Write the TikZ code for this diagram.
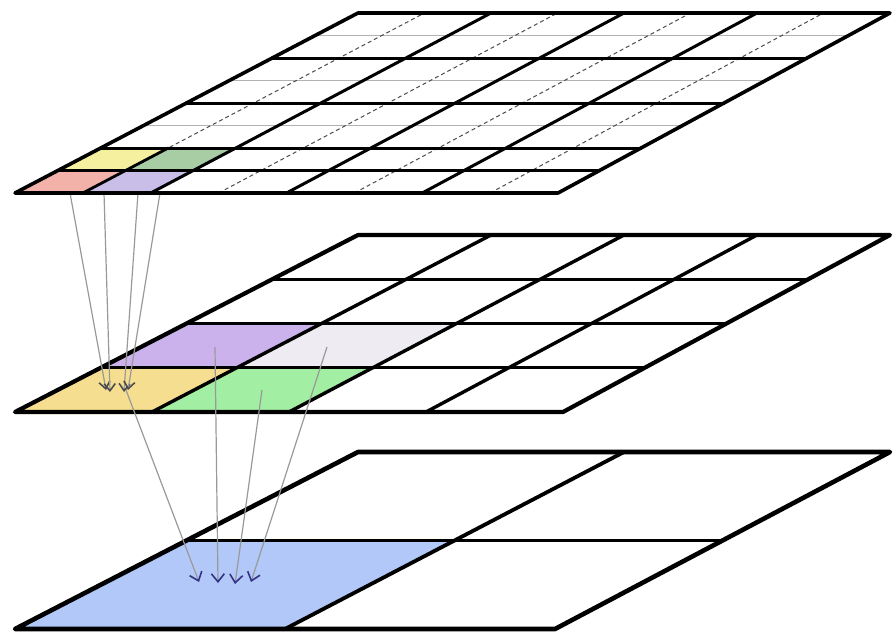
\documentclass[tikz,border=0pt]{standalone}
\usetikzlibrary{calc,arrows.meta}
\definecolor{tpink}{HTML}{F2B2AA}
\definecolor{tlav}{HTML}{C8BEE8}
\definecolor{tyel}{HTML}{F4F0A0}
\definecolor{tgreen}{HTML}{A8CCA4}
\definecolor{myel}{HTML}{F6DE90}
\definecolor{mgreen}{HTML}{A2EEA2}
\definecolor{mpurp}{HTML}{CBB2EC}
\definecolor{mgray}{HTML}{EEEBF2}
\definecolor{bblue}{HTML}{B2C8F8}
\newcommand{\mklayer}[8]{%
  \foreach \i in {0,...,#2}{\foreach \j in {0,...,#2}{%
    \pgfmathsetmacro\px{#3 + \j/#2*(#4-#3) + \i/#2*(#5-#3) + \i*\j/(#2*#2)*(#6-#5-#4+#3)}%
    \pgfmathsetmacro\py{#7 + \i/#2*(#8-#7)}%
    \coordinate (#1-\i-\j) at (\px,\py);}}}
\tikzset{
  gridline/.style={line width=3.4pt, line join=round, line cap=round},
  border/.style={line width=4.2pt, line join=round},
  thinrow/.style={line width=1pt, color=black!30},
  dashcol/.style={line width=1pt, color=black!70, dash pattern=on 4pt off 3pt},
  link/.style={line width=1.2pt, color=black!40},
  upper/.style={link, -{Straight Barb[length=7pt,width=11pt,line width=1.6pt,color=black!70]}},
  lower/.style={link, -{Straight Barb[length=8pt,width=13pt,line width=1.6pt,color=blue!40!black!80]}},
}
\begin{document}
\begin{tikzpicture}[x=1pt,y=-1pt]
\useasboundingbox (0,0) rectangle (893,637);
\mklayer{T}{8}{15}{558}{358}{890}{193}{13}
\mklayer{M}{4}{15}{563}{358}{890}{412}{235}
\mklayer{B}{2}{15}{555}{358}{890}{629}{452}

% ---------- bottom layer ----------
\fill[white] (B-0-0) -- (B-0-2) -- (B-2-2) -- (B-2-0) -- cycle;
\fill[bblue] (B-0-0) -- (B-0-1) -- (B-1-1) -- (B-1-0) -- cycle;
\draw[gridline, line width=3.8pt] (B-1-0) -- (B-1-2);
\draw[gridline, line width=3.8pt] (B-0-1) -- (B-2-1);
\draw[border, line width=4.6pt] (B-0-0) -- (B-0-2) -- (B-2-2) -- (B-2-0) -- cycle;

% ---------- middle layer ----------
\fill[white] (M-0-0) -- (M-0-4) -- (M-4-4) -- (M-4-0) -- cycle;
\fill[myel]   (M-0-0) -- (M-0-1) -- (M-1-1) -- (M-1-0) -- cycle;
\fill[mgreen] (M-0-1) -- (M-0-2) -- (M-1-2) -- (M-1-1) -- cycle;
\fill[mpurp]  (M-1-0) -- (M-1-1) -- (M-2-1) -- (M-2-0) -- cycle;
\fill[mgray]  (M-1-1) -- (M-1-2) -- (M-2-2) -- (M-2-1) -- cycle;
\foreach \k in {1,2,3}{
  \draw[gridline] (M-\k-0) -- (M-\k-4);
  \draw[gridline] (M-0-\k) -- (M-4-\k);
}
\draw[border] (M-0-0) -- (M-0-4) -- (M-4-4) -- (M-4-0) -- cycle;

% ---------- connectors ----------
\coordinate (ua) at (70,193);  \coordinate (uae) at (106,390);
\coordinate (ub) at (104,193); \coordinate (ube) at (110,392);
\coordinate (uc) at (138,193); \coordinate (uce) at (124,392);
\coordinate (ud) at (160,193); \coordinate (ude) at (128,390);
\draw[upper] (ua) -- (uae);
\draw[upper] (ub) -- (ube);
\draw[upper] (uc) -- (uce);
\draw[upper] (ud) -- (ude);

\coordinate (cyel) at (126,390);  \coordinate (le1) at (199,582);
\coordinate (cpur) at (215,347);  \coordinate (le2) at (218,583);
\coordinate (cgrn) at (262,390);  \coordinate (le3) at (235,584);
\coordinate (cgry) at (327,347);  \coordinate (le4) at (251,582);
\draw[lower] (cyel) -- (le1);
\draw[lower] (cpur) -- (le2);
\draw[lower] (cgrn) -- (le3);
\draw[lower] (cgry) -- (le4);

% ---------- top layer ----------
\fill[white] (T-0-0) -- (T-0-8) -- (T-8-8) -- (T-8-0) -- cycle;
\foreach \k in {3,5,7}{ \draw[thinrow] (T-\k-0) -- (T-\k-8); }
\foreach \k in {1,3,5,7}{ \draw[dashcol] (T-0-\k) -- (T-8-\k); }
\fill[tpink]  (T-0-0) -- (T-0-1) -- (T-1-1) -- (T-1-0) -- cycle;
\fill[tlav]   (T-0-1) -- (T-0-2) -- (T-1-2) -- (T-1-1) -- cycle;
\fill[tyel]   (T-1-0) -- (T-1-1) -- (T-2-1) -- (T-2-0) -- cycle;
\fill[tgreen] (T-1-1) -- (T-1-2) -- (T-2-2) -- (T-2-1) -- cycle;
\draw[gridline, line width=2.8pt] (T-1-0) -- (T-1-2);
\draw[gridline, line width=2.8pt] (T-0-1) -- (T-2-1);
\foreach \k in {1,2,4,6}{ \draw[gridline, line width=3pt] (T-\k-0) -- (T-\k-8); }
\foreach \k in {2,4,6}{ \draw[gridline, line width=3pt] (T-0-\k) -- (T-8-\k); }
\draw[border, line width=3.6pt] (T-0-0) -- (T-0-8) -- (T-8-8) -- (T-8-0) -- cycle;
\end{tikzpicture}
\end{document}
